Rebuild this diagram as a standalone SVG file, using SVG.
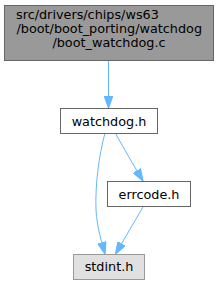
<svg xmlns="http://www.w3.org/2000/svg" width="219" height="285" viewBox="0 0 219 285">
<style>
text{font-family:"DejaVu Sans",sans-serif;font-size:12.8px;fill:#000}
.box{fill:#fff;stroke:#666;stroke-width:1}
.e{fill:none;stroke:#63b8ff;stroke-width:1}
</style>
<defs>
<marker id="ah" viewBox="0 0 10 7" refX="10" refY="3.5" markerWidth="12" markerHeight="9" markerUnits="userSpaceOnUse" orient="auto">
<path d="M0,0 L10,3.5 L0,7 z" fill="#63b8ff" stroke="#63b8ff"/>
</marker>
</defs>
<g id="edges">
<path class="e" d="M108.5,60 L108.5,108" marker-end="url(#ah)"/>
<path class="e" d="M105,133 C99,155 95,185 96,210 C97,228 102,243 105,254" marker-end="url(#ah)"/>
<path class="e" d="M115.5,133.5 Q128,156 143,181" marker-end="url(#ah)"/>
<path class="e" d="M143,207 L115.5,254" marker-end="url(#ah)"/>
</g>
<g id="node1">
<rect x="4.5" y="5.5" width="209" height="55" fill="#999" stroke="#666"/>
<text x="16" y="18.5">src/drivers/chips/ws63</text>
<text x="16.5" y="32.5">/boot/boot_porting/watchdog</text>
<text x="109" y="46.5" text-anchor="middle">/boot_watchdog.c</text>
</g>
<g id="node2">
<rect class="box" x="60.5" y="108.5" width="97" height="25"/>
<text x="109" y="125.5" text-anchor="middle">watchdog.h</text>
</g>
<g id="node3">
<rect class="box" x="107.5" y="181.5" width="83" height="25"/>
<text x="149" y="198.5" text-anchor="middle">errcode.h</text>
</g>
<g id="node4">
<rect x="73.5" y="254.5" width="71" height="25" fill="#e0e0e0" stroke="#999"/>
<text x="109" y="271" text-anchor="middle">stdint.h</text>
</g>
</svg>
